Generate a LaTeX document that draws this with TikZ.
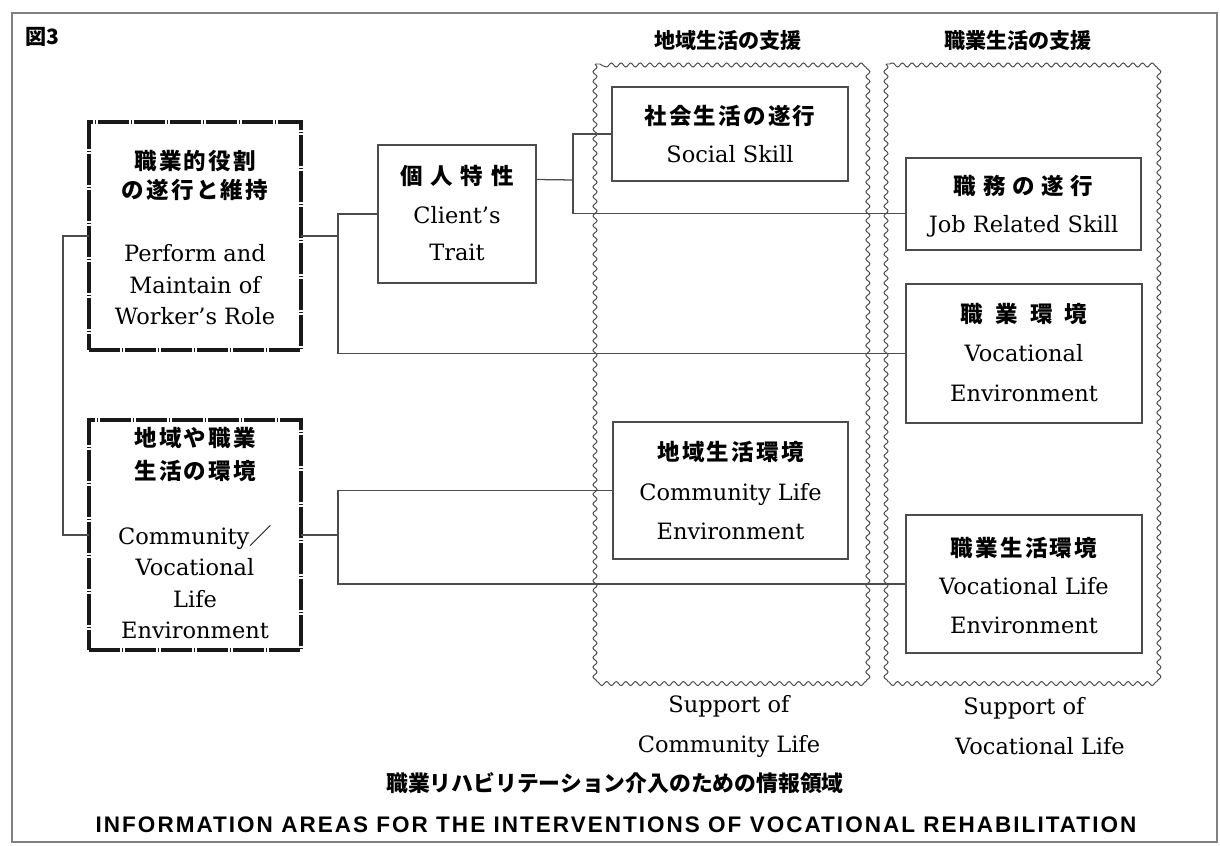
\documentclass[tikz,border=0pt]{standalone}
\usepackage{fontspec}
\setmainfont{DejaVu Serif}
\newfontfamily\cjk[LetterSpace=10]{Noto Sans CJK JP}
\newfontfamily\cjkt{Noto Sans CJK JP}
\newfontfamily\titlesans[LetterSpace=9]{Liberation Sans}
\usetikzlibrary{fit,calc,decorations.pathmorphing}
\begin{document}
\begin{tikzpicture}[x=0.025cm,y=-0.025cm,
 every node/.style={inner sep=0pt, outer sep=0pt},
 en/.style={font=\fontsize{16}{22.4}\selectfont, align=center},
 thinbox/.style={draw=black!70, line width=1.1pt},
 rolebox/.style={draw=black!90, line width=2.6pt, dash pattern=on 22pt off 1.2pt on 1.2pt off 1.2pt},
 panel/.style={draw=black!70, line width=0.7pt, decorate, decoration={snake, amplitude=0.05cm, segment length=0.24cm}},
 link/.style={draw=black!70, line width=0.9pt},
 frame/.style={draw=black!50, line width=1.1pt},
 head/.style={font=\cjkt\bfseries\fontsize{15}{18}\selectfont},
 foot/.style={font=\fontsize{16}{22}\selectfont, align=center}]
\useasboundingbox (0,0) rectangle (1220,846);
\draw[frame] (12,13) rectangle (1217,842);
\node[font=\cjkt\bfseries\fontsize{15}{18}\selectfont, anchor=west] (fig) at (25,37) {図3};

% panels
\draw[panel] (595,64) rectangle (866,677);
\draw[panel] (886,64) rectangle (1159,677);
\node[head] (h1) at (728,40) {地域生活の支援};
\node[head] (h2) at (1018,40) {職業生活の支援};

% boxes
\node[rolebox, fit={(89,122) (301,350)}] (A) {};
\node[en] (At) at ($(A.center)+(0,1.5)$) {{\cjk\bfseries 職業的役割}\\[-1.8pt]{\cjk\bfseries の遂行と維持}\\[23pt]Perform and\\Maintain of\\Worker's Role};
\node[rolebox, fit={(89,420) (301,650)}] (B) {};
\node[en] (Bt) at ($(B.center)+(0,-2)$) {{\cjk\bfseries 地域や職業}\\[1.1pt]{\cjk\bfseries 生活の環境}\\[23.6pt]Community{\cjkt ／}\\Vocational\\Life\\Environment};
\node[thinbox, fit={(378,145) (536,283)}] (C) {};
\node[en] (Ct) at ($(C.center)+(0,-1)$) {{\cjk\bfseries 個\hspace{5.5pt}人\hspace{5.5pt}特\hspace{5.5pt}性}\\[6pt]Client's\\[3.9pt]Trait};
\node[thinbox, fit={(612,87) (848,181)}] (S) {};
\node[en] (St) at (S.center) {{\cjk\bfseries 社会生活の遂行}\\[4.6pt]Social Skill};
\node[thinbox, fit={(613,422) (848,559)}] (CL) {};
\node[en] (CLt) at (CL.center) {{\cjk\bfseries 地域生活環境}\\[6pt]Community Life\\[5pt]Environment};
\node[thinbox, fit={(906,158) (1141,250)}] (J) {};
\node[en] (Jt) at ($(J.center)+(0,2)$) {{\cjk\bfseries 職\hspace{4.8pt}務\hspace{4.8pt}の\hspace{4.8pt}遂\hspace{4.8pt}行}\\[4.6pt]Job Related Skill};
\node[thinbox, fit={(906,284) (1142,423)}] (VE) {};
\node[en] (VEt) at ($(VE.center)+(0,-1)$) {{\cjk\bfseries 職\hspace{8.7pt}業\hspace{8.7pt}環\hspace{8.7pt}境}\\[6pt]Vocational\\[6pt]Environment};
\node[thinbox, fit={(906,515) (1142,653)}] (VL) {};
\node[en] (VLt) at ($(VL.center)+(0,1.5)$) {{\cjk\bfseries 職業生活環境}\\[4.6pt]Vocational Life\\[6pt]Environment};

% connectors
\draw[link] (A.west) -- ++(-26,0) |- (B.west);
\coordinate (j1) at (338,236);
\draw[link] (A.east) -- (j1);
\draw[link] (C.west) -| (j1) |- (VE.west);
\coordinate (cC) at ($(C.north east)!0.25!(C.south east)$);
\coordinate (jJ) at ($(J.north west)!0.6!(J.south west)$);
\coordinate (j2) at (573,180);
\draw[link] (cC) -- (j2);
\draw[link] (S.west) -| (j2) |- (jJ);
\coordinate (j3) at (338,535);
\draw[link] (B.east) -- (j3);
\draw[link] (CL.west) -| (j3) |- (VL.west);

% bottom labels
\node[foot] (s1) at (729,726) {Support of\\[6.5pt]Community Life};
\node[foot] (s2a) at (1024,708) {Support of};
\node[foot] (s2b) at (1040,746) {Vocational Life};
\node[font=\cjkt\bfseries\fontsize{15.5}{18}\selectfont] (t1) at (615,783) {職業リハビリテーション介入のための情報領域};
\node[font=\titlesans\bfseries\fontsize{16}{18}\selectfont] (t2) at (616,825) {INFORMATION AREAS FOR THE INTERVENTIONS OF VOCATIONAL REHABILITATION};
\end{tikzpicture}
\end{document}
